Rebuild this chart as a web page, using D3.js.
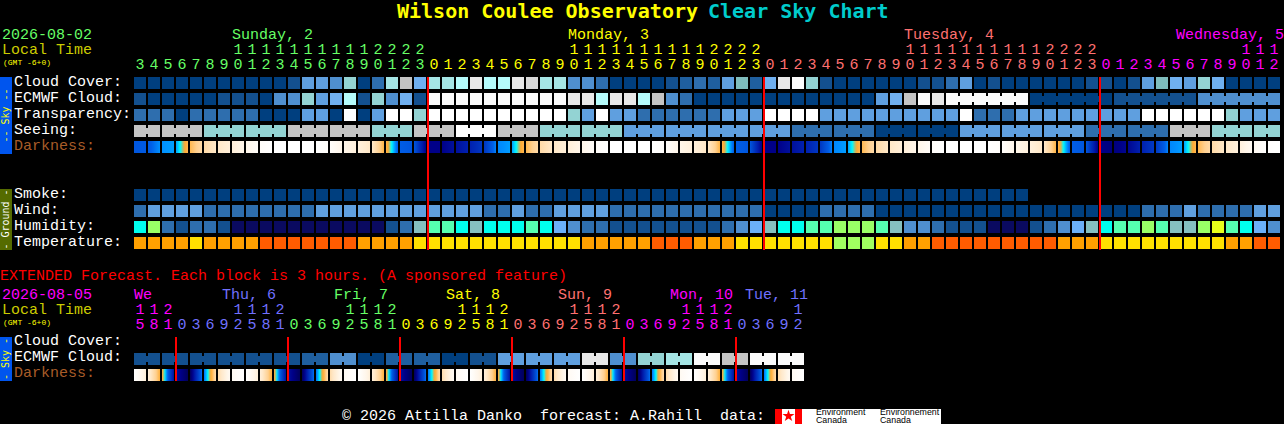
<!DOCTYPE html>
<html lang="en">

<head>
  <meta charset="UTF-8">
  <title>Wilson Coulee Observatory Clear Sky Chart</title>
  <script src="https://d3js.org/d3.v7.min.js"></script>
  <style>
    html, body { margin: 0; padding: 0; background: #000; overflow: hidden; }
    text { font-family: "Liberation Mono", monospace; }
  </style>
</head>

<body>
  <script>

    // colour levels used by the cloud, transparency, seeing, smoke and wind rows
    const skyColors = ["#003f7f", "#13508f", "#1f5f9f", "#2e6eae", "#4f8fcf", "#5f9fdf", "#70b0f0", "#7fbdbd",
      "#93d3d3", "#a5e5e5", "#b5fbfb", "#c4c4c4", "#d9d9d9", "#e8e8e8", "#fbfbfb", "#ffffff"];
    const humidityColors = ["#0a0a60", "#13508f", "#2e6eae", "#4f8fcf", "#6bb0f8", "#85c0c0", "#55ffb0", "#00ffee", "#99ff66", "#e8ff1a"];
    const tempColors = ["#ff5c00", "#ffa000", "#ffe000", "#a0ff60"];

    const cloudCover = [0,0,0,0,0,0,0,0,0,0,0,1,5,5,4,8,0,3,9,11,6,
      9,9,10,13,10,10,13,12,9,9,4,4,3,0,0,0,0,1,2,3,2,5,7,2,6,13,14,8,1,0,
      0,0,0,0,0,1,1,3,5,0,1,0,0,0,0,0,0,1,1,0,1,5,7,6,5,8,6,0,0,0,0];
    const ecmwfCloud = [1,0,0,0,0,0,1,1,1,0,4,4,8,5,6,10,1,8,4,6,1,
      14,14,14,14,14,14,14,14,14,14,13,13,10,13,13,10,11,4,3,0,0,0,0,0,0,0,0,0,0,0,
      0,0,5,6,11,14,13,14,14,14,14,14,14,0,0,0,0,0,0,1,1,1,1,1,1,4,4,4,4,4,4];
    const transparency = [3,3,3,0,3,3,3,3,3,0,0,0,5,5,0,15,0,5,15,15,8,
      15,15,15,15,15,15,15,15,15,15,8,5,15,5,5,3,3,3,3,3,3,5,5,5,15,15,15,15,5,5,
      5,5,5,5,5,5,5,5,15,3,3,3,5,5,5,5,5,5,5,5,5,15,15,15,15,15,15,8,5,5,5];
    const seeing = [11,11,11,11,11,8,8,8,8,8,8,11,11,11,11,11,11,8,8,8,11,
      11,11,15,15,15,11,11,11,8,8,8,8,8,8,5,5,5,5,5,5,5,5,5,5,5,5,3,3,3,3,
      3,3,0,0,0,0,0,0,5,5,5,5,5,5,5,5,5,3,3,3,3,3,3,11,11,11,8,8,8,8,8];
    const smoke = [0,0,0,0,0,0,0,0,0,0,0,0,0,0,0,0,0,0,0,0,0,
      0,0,0,0,0,0,0,0,0,0,0,0,0,0,0,0,0,0,0,0,0,0,0,0,0,0,0,0,0,0,
      0,0,0,0,0,0,0,0,0,0,0,0,0];
    const wind = [3,5,5,5,5,3,3,3,3,3,3,3,3,5,5,5,5,5,5,5,5,
      5,5,5,5,3,3,5,3,3,5,5,5,5,3,3,3,3,3,3,3,3,3,3,3,0,0,0,0,3,3,
      3,3,0,0,0,0,0,0,0,0,0,0,0,0,0,0,0,0,0,0,0,3,3,3,5,3,3,3,3,5,5];
    const humidity = [7,8,2,1,2,2,1,0,0,0,0,0,0,0,0,0,0,0,1,2,5,
      6,6,7,5,7,7,7,6,7,4,3,2,2,1,1,1,1,1,1,1,1,2,3,4,5,7,7,6,6,8,
      8,8,6,5,3,3,2,1,1,1,0,0,0,1,2,3,4,5,7,6,6,8,6,5,5,8,9,6,7,4,3];
    const temperature = [1,1,1,1,2,1,1,1,1,0,0,0,0,0,0,0,1,1,1,1,2,
      2,2,2,2,2,2,2,2,2,2,2,1,1,1,1,1,0,0,0,1,1,1,2,2,2,2,2,2,2,3,
      3,3,2,2,1,1,0,0,0,0,0,0,0,0,0,1,1,1,2,2,2,2,2,2,2,2,2,1,1,0,0];

    // darkness at each block edge: 0 is full daylight, 10 is the darkest sky
    const darkness = [6.3,6.2,5.5,5.4,3.5,2.6,2,1.5,1,0.3,0,0,0,0,0.2,1,1.4,2,3.6,6.1,6.3,
      9,9,8.5,8,7.3,5.6,5.4,3.5,2.6,2,1.5,1,0.3,0,0,0,0,0.2,1,1.4,2,3.6,6.1,6.3,
      9,9,8.5,8,7.3,5.6,5.4,3.5,2.6,2,1.5,1,0.3,0,0,0,0,0.2,1,1.4,2,3.6,6.1,6.3,
      9,9.2,8.8,8,7.2,5.6,5.4,3.5,2.6,2,1.4,0.6,0.1,0];
    const darknessStops = [0, 1, 2, 3, 3.5, 4, 4.4, 4.7, 5.5, 6, 7, 8, 9, 10];
    const darknessColors = ["#ffffff", "#fff6ea", "#ffe8c8", "#ffd090", "#ffb850", "#ffa830", "#90c890", "#00ffff",
      "#0090ff", "#0060e8", "#0040c8", "#0020b0", "#000088", "#000050"];

    // extended forecast, 3 hours a block
    const extEcmwf = [1,1,1,1,1,1,1,1,1,1,1,1,2,2,4,4,0,0,2,2,2,2,0,0,
      1,1,5,5,5,5,5,5,13,13,4,4,8,8,9,9,14,14,11,11,14,14,14,14];
    const extDarkness = [0,1.5,3.7,8.5,9.8,5.8,2.5,0.6,0,1.5,3.7,8.5,9.8,5.8,2.5,0.6,0,1.5,3.7,8.5,9.8,5.8,2.5,0.6,
      0,1.5,3.7,8.5,9.8,5.8,2.5,0.6,0,1.5,3.7,8.5,9.8,5.8,2.5,0.6,0,1.5,3.7,8.5,9.8,5.8,2.5,0.6,0];

    // hours and days along the top
    const hours = [3,4,5,6,7,8,9,10,11,12,13,14,15,16,17,18,19,20,21,22,23,
      0,1,2,3,4,5,6,7,8,9,10,11,12,13,14,15,16,17,18,19,20,21,22,23,
      0,1,2,3,4,5,6,7,8,9,10,11,12,13,14,15,16,17,18,19,20,21,22,23,
      0,1,2,3,4,5,6,7,8,9,10,11,12];
    const dayNames = ["Sunday, 2", "Monday, 3", "Tuesday, 4", "Wednesday, 5"];
    const dayStarts = [0, 21, 45, 69];
    const dayLabelCols = [7, 31, 55, 74.43];
    const dayColors = ["#66ff66", "#ffff00", "#ff7070", "#ff00ff"];

    const extHours = [15,18,21,0,3,6,9,12,15,18,21,0,3,6,9,12,15,18,21,0,3,6,9,12,15,18,21,
      0,3,6,9,12,15,18,21,0,3,6,9,12,15,18,21,0,3,6,9,12];
    const extDayNames = ["We", "Thu, 6", "Fri, 7", "Sat, 8", "Sun, 9", "Mon, 10", "Tue, 11"];
    const extDayStarts = [0, 3, 11, 19, 27, 35, 43];
    const extDayLabelCols = [0, 6.29, 14.29, 22.29, 30.29, 38.29, 43.64];
    const extDayColors = ["#ff00ff", "#7070ff", "#66ff66", "#ffff00", "#ff7070", "#ff00ff", "#7070ff"];

    const skyLabels = ["Cloud Cover:", "ECMWF Cloud:", "Transparency:", "Seeing:", "Darkness:"];
    const groundLabels = ["Smoke:", "Wind:", "Humidity:", "Temperature:"];
    const extLabels = ["Cloud Cover:", "ECMWF Cloud:", "Darkness:"];
    const midnights = [21, 45, 69];
    const extMidnights = [3, 11, 19, 27, 35, 43];

    const svg = d3.select("body").append("svg")
      .attr("width", 1284)
      .attr("height", 424)
      .style("display", "block");

    const colX = d3.scaleLinear().domain([0, 82]).range([134, 1282]);
    const cellW = 12;
    const cellH = 12;

    const skyColor = d3.scaleOrdinal().domain(d3.range(skyColors.length)).range(skyColors);
    const humidityColor = d3.scaleOrdinal().domain(d3.range(humidityColors.length)).range(humidityColors);
    const tempColor = d3.scaleOrdinal().domain(d3.range(tempColors.length)).range(tempColors);
    const darkColor = d3.scaleLinear().domain(darknessStops).range(darknessColors);
    const defs = svg.append("defs");

    // row of blocks. groupStarts says where a joined group begins, blocks in between get a bridge
    function drawRow(values, y, color, groupStarts) {
      const g = svg.append("g");
      g.selectAll("rect.cell")
        .data(values)
        .enter().append("rect")
        .attr("class", "cell")
        .attr("x", (d, i) => colX(i))
        .attr("y", y)
        .attr("width", cellW)
        .attr("height", cellH)
        .attr("fill", d => color(d));

      if (groupStarts) {
        const bridges = d3.range(1, values.length).filter(i => !groupStarts.includes(i));
        g.selectAll("rect.bridge")
          .data(bridges)
          .enter().append("rect")
          .attr("class", "bridge")
          .attr("x", i => colX(i) - 2)
          .attr("y", y + 3)
          .attr("width", 2)
          .attr("height", 6)
          .attr("fill", i => color(values[i]));
      }
    }

    // each darkness block fades from its left edge value to its right edge value
    function drawDarkness(edges, y, id) {
      const blocks = d3.range(edges.length - 1);
      blocks.forEach(function (i) {
        const samples = d3.range(0, 1.01, 1 / 12);
        defs.append("linearGradient")
          .attr("id", id + i)
          .selectAll("stop")
          .data(samples)
          .enter().append("stop")
          .attr("offset", d => d)
          .attr("stop-color", d => darkColor(edges[i] + (edges[i + 1] - edges[i]) * d));
      });
      svg.append("g").selectAll("rect")
        .data(blocks)
        .enter().append("rect")
        .attr("x", i => colX(i))
        .attr("y", y)
        .attr("width", cellW)
        .attr("height", cellH)
        .attr("fill", i => "url(#" + id + i + ")");
    }

    // hour digits are two axes, tens above ones
    function drawHours(list, y, colorOf) {
      const cols = d3.range(list.length);
      const ones = d3.axisBottom(colX).tickValues(cols).tickSize(0).tickPadding(0).offset(0)
        .tickFormat(i => list[i] % 10);
      const tens = d3.axisBottom(colX).tickValues(cols.filter(i => list[i] >= 10)).tickSize(0).tickPadding(0).offset(0)
        .tickFormat(i => Math.floor(list[i] / 10));

      [[ones, y], [tens, y - 15]].forEach(function (a) {
        const g = svg.append("g")
          .attr("transform", "translate(6," + (a[1] - 12) + ")")
          .call(a[0]);
        g.select(".domain").remove();
        g.selectAll("text")
          .attr("y", 0)
          .attr("dy", 12)
          .style("font-family", '"Liberation Mono", monospace')
          .style("font-size", "15px")
          .attr("fill", i => colorOf(i));
      });
    }

    function label(text, x, y, color, size, weight, family) {
      return svg.append("text")
        .attr("x", x)
        .attr("y", y)
        .attr("fill", color)
        .style("font-size", (size || 15) + "px")
        .style("font-weight", weight || "normal")
        .style("font-family", family || null)
        .style("white-space", "pre")
        .text(text);
    }

    function sideBar(y0, y1, color, textColor, text) {
      svg.append("rect").attr("x", 0).attr("y", y0).attr("width", 12).attr("height", y1 - y0).attr("fill", color);
      svg.append("text")
        .attr("transform", "translate(9," + ((y0 + y1) / 2) + ")rotate(-90)")
        .attr("text-anchor", "middle")
        .attr("fill", textColor)
        .style("font-size", "10px")
        .style("font-family", '"DejaVu Sans Mono", monospace')
        .style("white-space", "pre")
        .text(text);
    }

    // Title
    const titleFont = '"DejaVu Sans Mono", monospace';
    label("Wilson Coulee Observatory", 397, 18, "#ffff00", 20, "bold", titleFont);
    label("Clear Sky Chart", 708, 18, "#00cccc", 20, "bold", titleFont);

    // Header
    label("2026-08-02", 2, 39, "#66ff66");
    label("Local Time", 2, 54, "#cccc00");
    label("(GMT -6+0)", 3, 65, "#ffff00", 8);

    dayNames.forEach(function (d, i) {
      label(d, colX(dayLabelCols[i]), 39, dayColors[i]);
    });
    const dayOfCol = i => d3.bisectRight(dayStarts, i) - 1;
    drawHours(hours, 69, i => dayColors[dayOfCol(i)]);

    // Sky block
    sideBar(77, 154, "#0055ee", "#ffff00", "-- Sky --");
    skyLabels.forEach(function (d, i) {
      label(d, 14, 86 + i * 16, i == 4 ? "#a85c28" : "#ffffff");
    });
    drawRow(cloudCover, 77, skyColor);
    drawRow(ecmwfCloud, 93, skyColor, d3.range(0, 58).concat([58, 64, 70, 76]));
    drawRow(transparency, 109, skyColor);
    drawRow(seeing, 125, skyColor, d3.range(2, 82, 3));
    drawDarkness(darkness, 141, "dark");

    // Ground block
    sideBar(189, 250, "#556b00", "#ffffff", "- Ground -");
    groundLabels.forEach(function (d, i) {
      label(d, 14, 198 + i * 16, "#ffffff");
    });
    drawRow(smoke, 189, skyColor);
    drawRow(wind, 205, skyColor);
    drawRow(humidity, 221, humidityColor);
    drawRow(temperature, 237, tempColor);

    // Midnight lines
    svg.append("g").selectAll("rect")
      .data(midnights)
      .enter().append("rect")
      .attr("x", d => colX(d) - 1)
      .attr("y", 77)
      .attr("width", 2)
      .attr("height", 173)
      .attr("fill", "#ff0000");

    // Extended forecast
    label("EXTENDED Forecast. Each block is 3 hours. (A sponsored feature)", 0, 280, "#ff0000");
    label("2026-08-05", 2, 299, "#ff00ff");
    label("Local Time", 2, 314, "#cccc00");
    label("(GMT -6+0)", 3, 325, "#ffff00", 8);

    extDayNames.forEach(function (d, i) {
      label(d, colX(extDayLabelCols[i]), 299, extDayColors[i]);
    });
    const extDayOfCol = i => d3.bisectRight(extDayStarts, i) - 1;
    drawHours(extHours, 329, i => extDayColors[extDayOfCol(i)]);

    sideBar(337, 381, "#0055ee", "#ffff00", "- Sky -");
    extLabels.forEach(function (d, i) {
      label(d, 14, 345 + i * 16, i == 2 ? "#a85c28" : "#ffffff");
    });
    drawRow(extEcmwf, 353, skyColor, d3.range(0, 48, 2));
    drawDarkness(extDarkness, 369, "extdark");

    svg.append("g").selectAll("rect")
      .data(extMidnights)
      .enter().append("rect")
      .attr("x", d => colX(d) - 1)
      .attr("y", 337)
      .attr("width", 2)
      .attr("height", 44)
      .attr("fill", "#ff0000");

    // Footer
    label("\u00a9 2026 Attilla Danko  forecast: A.Rahill  data:", 342, 420, "#ffffff");

    // Environment Canada logo
    svg.append("rect").attr("x", 775).attr("y", 409).attr("width", 166).attr("height", 15).attr("fill", "#ffffff");
    svg.append("rect").attr("x", 775).attr("y", 409).attr("width", 7).attr("height", 15).attr("fill", "#ff0000");
    svg.append("rect").attr("x", 795).attr("y", 409).attr("width", 7).attr("height", 15).attr("fill", "#ff0000");
    svg.append("path")
      .attr("d", d3.symbol().type(d3.symbolStar).size(45)())
      .attr("transform", "translate(788.5,416)")
      .attr("fill", "#ff0000");
    [["Environment", 816], ["Environnement", 880]].forEach(function (d) {
      svg.append("text").attr("x", d[1]).attr("y", 415).attr("fill", "#000").style("font-size", "8.8px")
        .style("font-family", '"Liberation Sans", sans-serif').text(d[0]);
      svg.append("text").attr("x", d[1]).attr("y", 423).attr("fill", "#000").style("font-size", "8.8px")
        .style("font-family", '"Liberation Sans", sans-serif').text("Canada");
    });

  </script>
</body>

</html>
